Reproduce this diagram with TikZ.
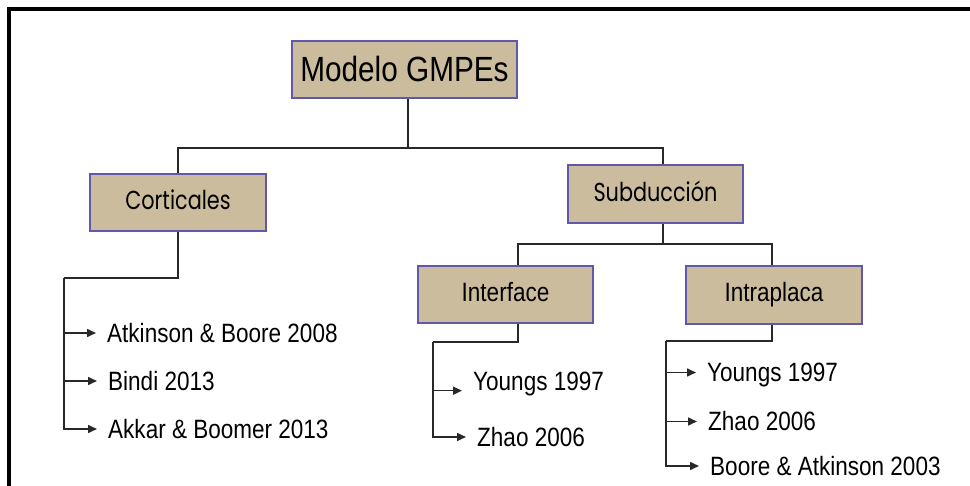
\documentclass[tikz,border=0pt]{standalone}
\usepackage{fontspec}
\setmainfont{Liberation Sans}
\newfontfamily\narrowfont[FakeStretch=0.85]{Liberation Sans}
\newfontfamily\handfont[FakeStretch=0.8]{Poppins}
\usetikzlibrary{arrows.meta}
\definecolor{boxfill}{RGB}{203,188,157}
\definecolor{boxline}{RGB}{98,88,170}
\definecolor{wirecol}{RGB}{40,40,40}
\tikzset{
  box/.style={draw=boxline, line width=1.6pt, fill=boxfill, minimum height=57pt, inner sep=0pt},
  rootlabel/.style={font=\narrowfont\fontsize{35}{40}\selectfont, text height=25pt, text depth=0pt},
  handlabel/.style={font=\handfont\fontsize{26}{30}\selectfont, text height=19pt, text depth=4pt},
  midlabel/.style={font=\narrowfont\fontsize{26.5}{30}\selectfont, text height=19pt, text depth=5pt},
  leaf/.style={anchor=west, inner sep=0pt, font=\narrowfont\fontsize{26.5}{30}\selectfont, text height=19pt, text depth=0pt},
  wire/.style={draw=wirecol, line width=1.6pt},
  arr/.style={wire, -{Triangle[length=9pt,width=8pt]}, shorten >=11pt},
}
\begin{document}
\begin{tikzpicture}[x=1pt,y=-1pt]
	\useasboundingbox (0,0) rectangle (970,486);
	\draw[line width=3.5pt] (9,490) -- (9,9) -- (975,9);

	\node[box, rootlabel, minimum width=225pt] (gmpe) at (404.5,69.5) {Modelo GMPEs};
	\node[box, handlabel, minimum width=176pt] (cort) at (178,202.5) {Corticales};
	\node[box, handlabel, minimum width=175pt, minimum height=58pt] (subd) at (655.5,194) {Subducción};
	\node[box, midlabel, minimum width=175pt] (intf) at (505.5,294.5) {Interface};
	\node[box, midlabel, minimum width=176pt, minimum height=58pt] (intr) at (774,295) {Intraplaca};

	\node[leaf] (c1) at (107,333) {Atkinson \& Boore 2008};
	\node[leaf] (c2) at (108,381) {Bindi 2013};
	\node[leaf] (c3) at (108,429) {Akkar \& Boomer 2013};
	\node[leaf] (i1) at (473,381) {Youngs 1997};
	\node[leaf] (i2) at (477,437) {Zhao 2006};
	\node[leaf] (r1) at (707,372.5) {Youngs 1997};
	\node[leaf] (r2) at (708,421.5) {Zhao 2006};
	\node[leaf] (r3) at (710,466) {Boore \& Atkinson 2003};

	\coordinate (j1) at (408,148);
	\coordinate (j2) at (663,244);
	\coordinate (j3) at (518,244);
	\coordinate (j4) at (772,244);
	\coordinate (railC) at (64,278);
	\coordinate (railI) at (433,342);
	\coordinate (railR) at (666,341);

	\draw[wire] (gmpe.south -| j1) -- (j1);
	\draw[wire] (cort.north) |- (j1) -| (subd.north -| j2);
	\draw[wire] (subd.south -| j2) -- (j2);
	\draw[wire] (intf.north -| j3) -- (j3) -- (j4) -- (intr.north -| j4);

	\draw[wire] (cort.south) |- (railC);
	\draw[arr] (railC) |- (c3.west);
	\draw[arr] (railC |- c1.west) -- (c1.west);
	\draw[arr] (railC |- c2.west) -- (c2.west);

	\draw[wire] (intf.south -| j3) |- (railI);
	\draw[arr] (railI) |- (i2.west);
	\draw[arr] (railI |- i1.south west) -- (i1.south west);

	\draw[wire] (intr.south -| j4) |- (railR);
	\draw[arr] (railR) |- (r3.west);
	\draw[arr] (railR |- r1.west) -- (r1.west);
	\draw[arr] (railR |- r2.west) -- (r2.west);
\end{tikzpicture}
\end{document}
